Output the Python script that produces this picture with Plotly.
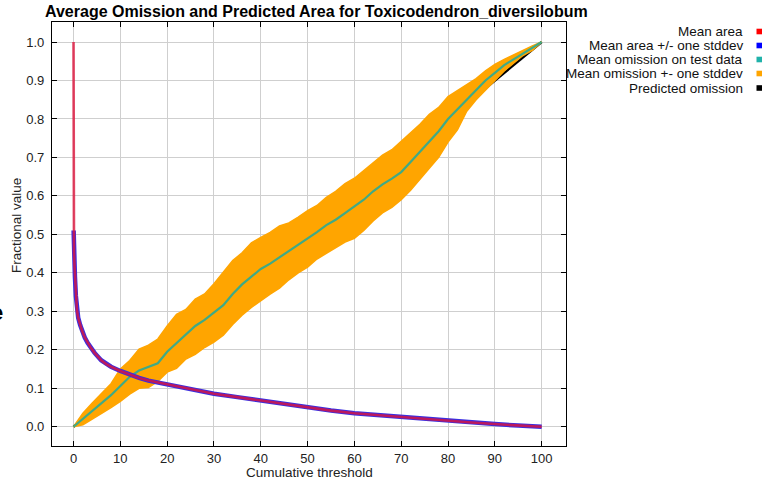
import plotly.graph_objects as go

# ---------------- data ----------------
thr = [0, 2, 4, 6, 8, 10, 12, 14, 16, 18, 20, 22, 24, 26, 28, 30, 32, 34, 36, 38, 40,
       42, 44, 46, 48, 50, 52, 54, 56, 58, 60, 62, 64, 66, 68, 70, 72, 74, 76, 78, 80,
       82, 84, 86, 88, 90, 92, 94, 96, 98, 100]

omission_mean = [0.0, 0.02, 0.04, 0.062, 0.082, 0.106, 0.13, 0.146, 0.155, 0.165, 0.195,
                 0.218, 0.24, 0.262, 0.278, 0.296, 0.316, 0.345, 0.37, 0.39, 0.41,
                 0.424, 0.44, 0.456, 0.472, 0.49, 0.506, 0.524, 0.538, 0.555, 0.572,
                 0.59, 0.612, 0.63, 0.645, 0.662, 0.688, 0.715, 0.742, 0.768, 0.8,
                 0.825, 0.85, 0.875, 0.9, 0.92, 0.94, 0.955, 0.97, 0.985, 1.0]

omission_upper = [0.0, 0.035, 0.062, 0.088, 0.112, 0.15, 0.172, 0.202, 0.212, 0.228, 0.262,
                  0.292, 0.305, 0.332, 0.345, 0.372, 0.402, 0.432, 0.452, 0.478, 0.492,
                  0.505, 0.522, 0.53, 0.545, 0.562, 0.575, 0.596, 0.612, 0.632, 0.646,
                  0.666, 0.688, 0.706, 0.72, 0.742, 0.762, 0.786, 0.812, 0.83, 0.858,
                  0.874, 0.888, 0.905, 0.925, 0.942, 0.955, 0.967, 0.978, 0.99, 1.0]

omission_lower = [0.0, 0.005, 0.02, 0.034, 0.05, 0.066, 0.085, 0.1, 0.102, 0.118, 0.142,
                  0.152, 0.176, 0.188, 0.206, 0.22, 0.238, 0.266, 0.29, 0.31, 0.328,
                  0.345, 0.36, 0.382, 0.4, 0.415, 0.436, 0.45, 0.466, 0.48, 0.49,
                  0.51, 0.535, 0.556, 0.57, 0.59, 0.615, 0.645, 0.672, 0.7, 0.74,
                  0.772, 0.82, 0.85, 0.875, 0.898, 0.925, 0.945, 0.965, 0.978, 1.0]

predicted_omission = [t / 100 for t in thr]

area_thr = [0, 0, 0.02, 0.05, 0.1, 0.2, 0.3, 0.5, 0.75, 1.0, 1.4, 1.8, 2.4, 3.0, 3.7,
            4.5, 5.9, 7.0, 8.0, 10, 12, 14, 16, 18, 20, 23, 27, 30, 35, 40, 45, 50,
            55, 60, 65, 70, 75, 80, 85, 90, 95, 98, 100]
area_mean = [1.0, 0.55, 0.51, 0.48, 0.455, 0.42, 0.39, 0.34, 0.30, 0.283, 0.265, 0.25,
             0.232, 0.218, 0.205, 0.192, 0.173, 0.163, 0.156, 0.145, 0.135, 0.127,
             0.12, 0.115, 0.11, 0.102, 0.092, 0.086, 0.077, 0.068, 0.059, 0.05, 0.042,
             0.035, 0.03, 0.025, 0.02, 0.016, 0.011, 0.007, 0.003, 0.001, 0.0]

legend_labels = ["Mean area", "Mean area +/- one stddev", "Mean omission on test data",
                 "Mean omission +- one stddev", "Predicted omission"]
legend_colors = ["#ff0000", "#0000ff", "#20b2aa", "#ffa500", "#000000"]

x_ticks = list(range(0, 101, 10))
y_ticks = [i / 10 for i in range(0, 11)]

title_text = "Average Omission and Predicted Area for Toxicodendron_diversilobum"
x_title = "Cumulative threshold"
y_title = "Fractional value"

# ---------------- figure ----------------
W, H = 773, 481
L, R, T, B = 52, 566, 22, 446
FONT = "Liberation Sans, Arial, sans-serif"

fig = go.Figure()

# predicted omission (underneath)
fig.add_trace(go.Scatter(x=thr, y=predicted_omission, mode="lines",
                         line=dict(color="#000000", width=2.5), showlegend=False))
# omission band
fig.add_trace(go.Scatter(x=thr, y=omission_lower, mode="lines",
                         line=dict(color="#ffa500", width=1.5), showlegend=False))
fig.add_trace(go.Scatter(x=thr, y=omission_upper, mode="lines", fill="tonexty",
                         fillcolor="#ffa500",
                         line=dict(color="#ffa500", width=1.5), showlegend=False))
# mean omission
fig.add_trace(go.Scatter(x=thr, y=omission_mean, mode="lines",
                         line=dict(color="#3faa86", width=2.2), showlegend=False))
# mean area +/- stddev (thin blue band)
fig.add_trace(go.Scatter(x=area_thr[2:], y=area_mean[2:], mode="lines",
                         line=dict(color="#3a2ee0", width=4.5), showlegend=False))
# mean area
fig.add_trace(go.Scatter(x=area_thr, y=area_mean, mode="lines",
                         line=dict(color="rgba(220,20,60,0.8)", width=2.6),
                         showlegend=False))


def px_x(p):
    return (p - L) / (R - L)


def px_y(p):
    return (B - p) / (B - T)


annotations = [
    dict(text="<b>" + title_text + "</b>", x=px_x(316), y=px_y(11), xref="paper",
         yref="paper", showarrow=False, xanchor="center", yanchor="middle",
         font=dict(family=FONT, size=16, color="#000")),
    dict(text=x_title, x=px_x(309), y=px_y(472), xref="paper", yref="paper",
         showarrow=False, xanchor="center", yanchor="middle",
         font=dict(family=FONT, size=13.5, color="#222")),
    dict(text=y_title, x=px_x(16), y=px_y(226), xref="paper", yref="paper",
         showarrow=False, xanchor="center", yanchor="middle", textangle=-90,
         font=dict(family=FONT, size=13.5, color="#222")),
    dict(text="<b>e</b>", x=px_x(-3), y=px_y(312), xref="paper", yref="paper",
         showarrow=False, xanchor="center", yanchor="middle",
         font=dict(family=FONT, size=22, color="#000")),
]

shapes = []
legend_rows = [31.5, 45.5, 59.5, 73.5, 88]
for lab, col, yy in zip(legend_labels, legend_colors, legend_rows):
    annotations.append(dict(text=lab, x=px_x(745), y=px_y(yy), xref="paper",
                            yref="paper", showarrow=False, xanchor="right",
                            yanchor="middle",
                            font=dict(family=FONT, size=13.5, color="#111")))
    shapes.append(dict(type="rect", xref="paper", yref="paper",
                       x0=px_x(756.5), x1=px_x(762), y0=px_y(yy + 2.8),
                       y1=px_y(yy - 2.8), fillcolor=col, line=dict(width=0)))

axis_common = dict(showline=True, linecolor="#000", linewidth=1.2, mirror="ticks",
                   ticks="inside", ticklen=5, tickcolor="#000", tickwidth=1,
                   showgrid=True, gridcolor="#cfcfcf", gridwidth=1, zeroline=False,
                   tickfont=dict(family=FONT, size=13, color="#222"))

fig.update_layout(
    width=W, height=H,
    margin=dict(l=L, r=W - R, t=T, b=H - B, pad=0),
    paper_bgcolor="white", plot_bgcolor="white",
    showlegend=False,
    xaxis=dict(range=[-4.6, 105.2], tickvals=x_ticks, ticklabelstandoff=0,
               **axis_common),
    yaxis=dict(range=[-0.05, 1.052], tickvals=y_ticks, tickformat=".1f",
               ticklabelstandoff=4, **axis_common),
    annotations=annotations,
    shapes=shapes,
)

fig.write_html("out.html", config={"displayModeBar": False},
               post_script="document.body.style.margin='0';"
                           "document.body.style.overflow='hidden';")
